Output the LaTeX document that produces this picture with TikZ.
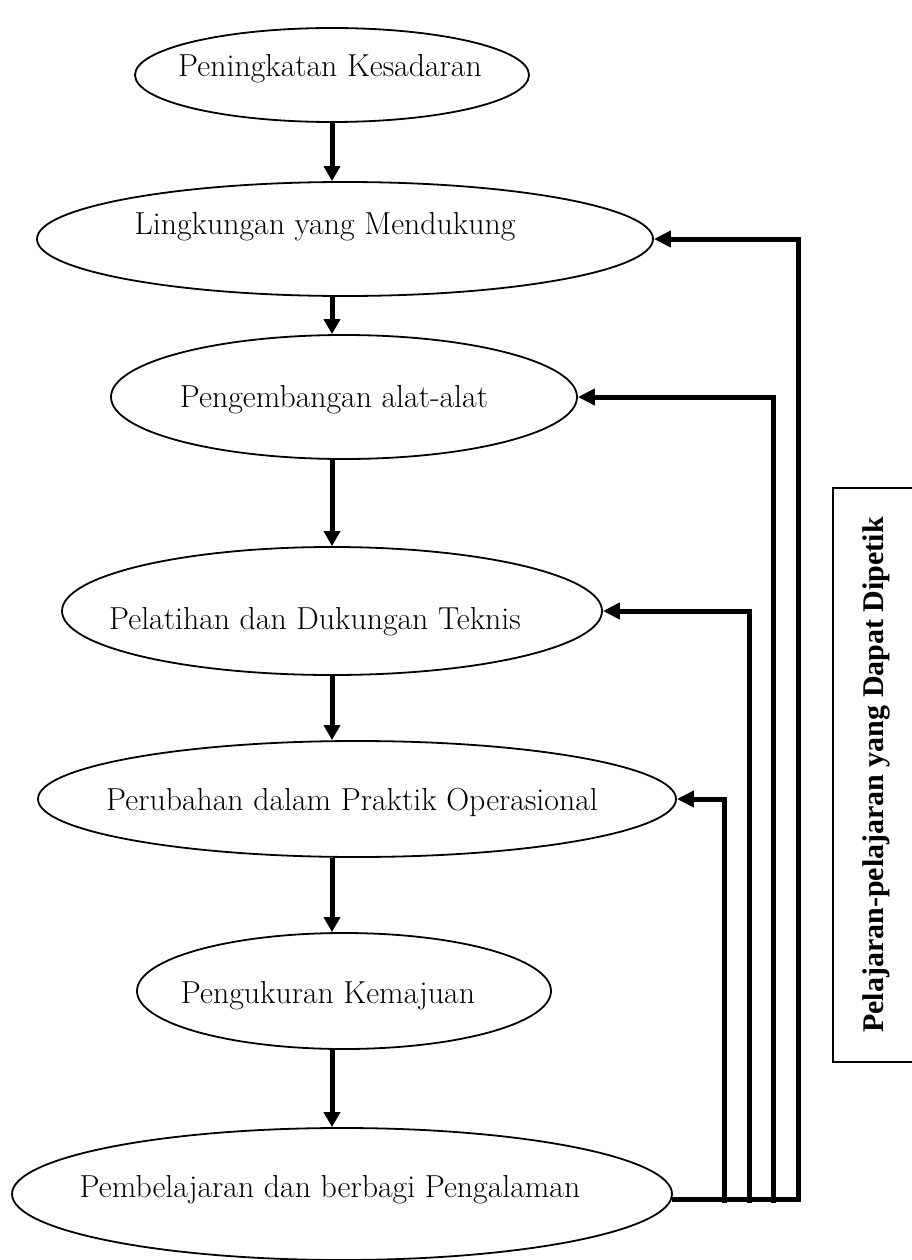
\documentclass[tikz,border=0pt]{standalone}
\usepackage{fontspec}
\newfontfamily\boxfont{Liberation Serif}
\usetikzlibrary{shapes.geometric,arrows.meta}
\tikzset{
  oval/.style={draw, ellipse, line width=1.8pt, inner sep=0pt},
  ovaltext/.style={anchor=base, inner sep=0pt, font=\fontsize{31.8}{36}\selectfont},
  downarrow/.style={line width=5pt, -{Triangle[length=15pt,width=16pt]}},
  fbline/.style={line width=5pt},
  fbarrow/.style={line width=5pt, line join=miter, -{Triangle[length=17pt,width=16pt]}},
  lessonbox/.style={draw, line width=1.8pt, rotate=90, inner sep=0pt,
    font=\boxfont\bfseries\fontsize{30}{36}\selectfont}
}
\begin{document}
\begin{tikzpicture}[x=1pt,y=-1pt]
\useasboundingbox (0,0) rectangle (912,1260);
\clip (0,0) rectangle (912,1260);
% ellipses
\node[oval, minimum width=394pt, minimum height=94pt]  (e1) at (332,75) {};
\node[oval, minimum width=616pt, minimum height=114pt] (e2) at (345,239) {};
\node[oval, minimum width=466pt, minimum height=124pt] (e3) at (344,397) {};
\node[oval, minimum width=540pt, minimum height=128pt] (e4) at (332,611) {};
\node[oval, minimum width=638pt, minimum height=116pt] (e5) at (357,799) {};
\node[oval, minimum width=414pt, minimum height=116pt] (e6) at (344,991) {};
\node[oval, minimum width=660pt, minimum height=132pt] (e7) at (342,1194) {};
% texts
\node[ovaltext] (t1) at (330,77)   {Peningkatan Kesadaran};
\node[ovaltext] (t2) at (325,234)  {Lingkungan yang Mendukung};
\node[ovaltext] (t3) at (334,407)  {Pengembangan alat-alat};
\node[ovaltext] (t4) at (315,629)  {Pelatihan dan Dukungan Teknis};
\node[ovaltext] (t5) at (352,810)  {Perubahan dalam Praktik Operasional};
\node[ovaltext] (t6) at (328,1003) {Pengukuran Kemajuan};
\node[ovaltext] (t7) at (330,1197) {Pembelajaran dan berbagi Pengalaman};
% downward arrows
\draw[downarrow] (e1.south) -- (e1.south |- e2.north);
\draw[downarrow] (e2.south -| e1.south) -- (e1.south |- e3.north);
\draw[downarrow] (e3.south -| e1.south) -- (e1.south |- e4.north);
\draw[downarrow] (e4.south -| e1.south) -- (e1.south |- e5.north);
\draw[downarrow] (e5.south -| e1.south) -- (e1.south |- e6.north);
\draw[downarrow] (e6.south -| e1.south) -- (e1.south |- e7.north);
% feedback lines
\coordinate (j1) at (724,1203);
\coordinate (j2) at (749,1203);
\coordinate (j3) at (773,1203);
\coordinate (j4) at (798,1203);
\draw[fbarrow] (e7.-1.6) -- (e7.-1.6 -| j4) |- (e2.east);
\draw[fbarrow] (j1) |- (e5.east);
\draw[fbarrow] (j2) |- (e4.east);
\draw[fbarrow] (j3) |- (e3.east);
% lessons box
\node[lessonbox, minimum width=574pt, minimum height=86pt] (box) at (876,775)
  {Pelajaran-pelajaran yang Dapat Dipetik};
\end{tikzpicture}
\end{document}
